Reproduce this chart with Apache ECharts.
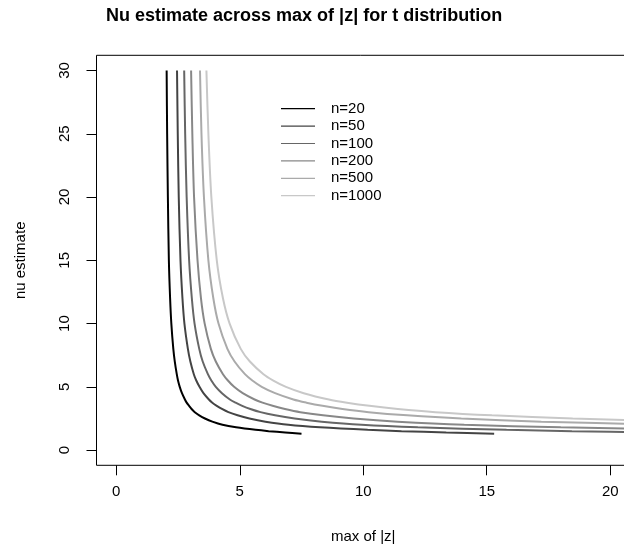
<!DOCTYPE html>
<html>
<head>
<meta charset="utf-8">
<script src="https://cdn.jsdelivr.net/npm/echarts@6/dist/echarts.min.js"></script>
<style>
  html, body { margin: 0; padding: 0; background: #fff; }
  #chart { width: 624px; height: 548px; }
</style>
</head>
<body>
<div id="chart"></div>
<script>
// nu values shared by every curve (y axis)
const nuLevels = [30, 25, 20, 15, 12, 10, 8, 7, 6, 5.5, 5, 4.5, 4, 3.75, 3.5, 3.25, 3, 2.75, 2.5, 2.25, 2, 1.8, 1.6, 1.5, 1.4, 1.3];

// max of |z| for each sample size, matched to nuLevels by position
const maxZ20 = [2.04, 2.06, 2.09, 2.13, 2.18, 2.23, 2.31, 2.37, 2.45, 2.50, 2.57, 2.66, 2.78, 2.85, 2.95, 3.05, 3.18, 3.36, 3.59, 3.89, 4.30, 4.85, 5.64, 6.17, 6.84, 7.50];
const maxZ50 = [2.46, 2.49, 2.53, 2.60, 2.68, 2.76, 2.90, 3.00, 3.14, 3.24, 3.37, 3.53, 3.75, 3.89, 4.07, 4.28, 4.54, 4.91, 5.39, 6.04, 6.97, 8.25, 10.18, 11.55, 13.36, 15.30];
const maxZ100 = [2.75, 2.79, 2.85, 2.95, 3.06, 3.17, 3.36, 3.50, 3.71, 3.85, 4.03, 4.28, 4.60, 4.83, 5.10, 5.43, 5.84, 6.43, 7.22, 8.32, 9.93, 12.21, 15.80, 18.45, 22.04];
const maxZ200 = [3.03, 3.08, 3.15, 3.29, 3.43, 3.58, 3.83, 4.03, 4.32, 4.52, 4.77, 5.12, 5.60, 5.92, 6.33, 6.83, 7.45, 8.37, 9.61, 11.39, 14.09, 18.00, 24.40];
const maxZ500 = [3.39, 3.45, 3.55, 3.73, 3.93, 4.14, 4.50, 4.79, 5.21, 5.51, 5.89, 6.43, 7.17, 7.70, 8.35, 9.16, 10.22, 11.78, 13.97, 17.21, 22.33];
const maxZ1000 = [3.65, 3.73, 3.85, 4.07, 4.32, 4.59, 5.04, 5.41, 5.96, 6.36, 6.87, 7.59, 8.61, 9.34, 10.25, 11.40, 12.92, 15.21, 18.48, 23.45];

const seriesNames = ['n=20', 'n=50', 'n=100', 'n=200', 'n=500', 'n=1000'];
const seriesX = [maxZ20, maxZ50, maxZ100, maxZ200, maxZ500, maxZ1000];
const seriesColors = ['#000000', '#444444', '#666666', '#888888', '#aaaaaa', '#c8c8c8'];

const xTicks = [0, 5, 10, 15, 20];
const yTicks = [0, 5, 10, 15, 20, 25, 30];

const font = 'Liberation Sans, Arial, Helvetica, sans-serif';

const chart = echarts.init(document.getElementById('chart'));

const series = seriesNames.map((name, i) => ({
  name: name,
  type: 'line',
  data: seriesX[i].map((x, j) => [x, nuLevels[j]]),
  showSymbol: false,
  smooth: 0.3,
  clip: true,
  lineStyle: { color: seriesColors[i], width: 2 },
  itemStyle: { color: seriesColors[i] },
}));

const option = {
  animation: false,
  backgroundColor: '#fff',
  title: {
    text: 'Nu estimate across max of |z| for t distribution',
    left: 106,
    top: 7,
    padding: 0,
    textStyle: { fontFamily: font, fontSize: 18, fontWeight: 'bold', color: '#000' },
  },
  legend: {
    orient: 'vertical',
    left: 281,
    top: 100,
    padding: 0,
    itemGap: 0,
    itemWidth: 34,
    itemHeight: 1.2,
    icon: 'rect',
    data: seriesNames,
    textStyle: {
      fontFamily: font,
      fontSize: 15,
      lineHeight: 17.4,
      color: '#000',
      padding: [0, 0, 0, 11],
    },
  },
  grid: {
    left: 96.5,
    top: 55.3,
    width: 533.5,
    height: 410,
    show: true,
    borderColor: '#000',
    borderWidth: 1,
    backgroundColor: 'transparent',
    outerBoundsMode: 'none',
  },
  xAxis: {
    type: 'value',
    min: -0.8,
    max: 20.8,
    name: 'max of |z|',
    nameLocation: 'middle',
    nameGap: 64,
    nameTextStyle: { fontFamily: font, fontSize: 15, color: '#000' },
    splitLine: { show: false },
    axisLine: { show: false, onZero: false },
    axisTick: { show: true, length: 10, lineStyle: { color: '#000' }, customValues: xTicks },
    axisLabel: { fontFamily: font, fontSize: 15, color: '#000', margin: 19, customValues: xTicks },
  },
  yAxis: {
    type: 'value',
    min: -1.2,
    max: 31.2,
    name: 'nu estimate',
    nameLocation: 'middle',
    nameGap: 68,
    nameRotate: 90,
    nameTextStyle: { fontFamily: font, fontSize: 15, color: '#000' },
    splitLine: { show: false },
    axisLine: { show: false, onZero: false },
    axisTick: { show: true, length: 10, lineStyle: { color: '#000' }, customValues: yTicks },
    axisLabel: { fontFamily: font, fontSize: 15, color: '#000', margin: 24, rotate: 90, customValues: yTicks },
  },
  series: series,
};

chart.setOption(option);
</script>
</body>
</html>
